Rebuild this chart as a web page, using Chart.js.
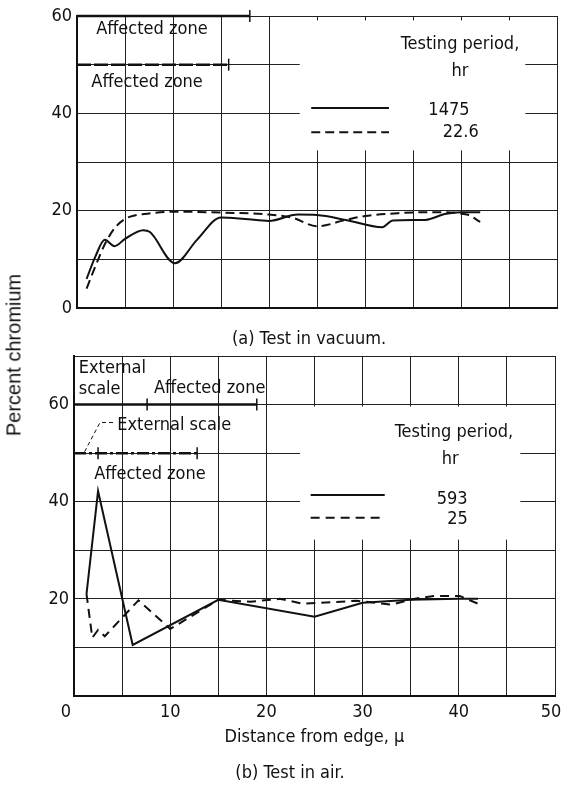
<!DOCTYPE html>
<html>
<head>
<meta charset="utf-8">
<script src="https://cdn.jsdelivr.net/npm/chart.js@4.4.0/dist/chart.umd.min.js"></script>
<style>
  body { margin: 0; background: #fff; width: 562px; height: 788px; position: relative; overflow: hidden;
         font-family: 'DejaVu Sans Condensed', 'Liberation Sans Narrow', sans-serif; color: #111; }
  #topChart { position: absolute; left: 0; top: 0; }
  #airChart { position: absolute; left: 0; top: 340px; }
  .cap { position: absolute; font-size: 18px; white-space: nowrap; transform: translateX(-50%); }
  #ylab { position: absolute; left: 14px; top: 355px; font-family: 'Liberation Sans', Arial, sans-serif; font-size: 20px;
          white-space: nowrap; transform: translate(-50%, -50%) rotate(-90deg); }
</style>
</head>
<body>
<canvas id="topChart" width="562" height="330"></canvas>
<canvas id="airChart" width="562" height="448"></canvas>
<div class="cap" style="left:309px; top:327px;">(a) Test in vacuum.</div>
<div class="cap" style="left:290px; top:761px;">(b) Test in air.</div>
<div id="ylab">Percent chromium</div>
<script>
// (a) vacuum, 1475 hr (solid)
const vacX1475 = [1, 1.9, 2.9, 3.9, 5, 6.9, 7.6, 10.2, 12.5, 15, 17.5, 20, 23, 25, 28, 31.8, 32.9, 36.3, 38.3, 40, 42];
const vacY1475 = [6, 10.5, 14, 12.7, 14.2, 16, 15.6, 9.2, 14, 18.6, 18.3, 17.9, 19.2, 19.1, 18.1, 16.6, 18, 18.1, 19.3, 19.7, 19.7];
// (a) vacuum, 22.6 hr (dashed)
const vacX226 = [1, 2, 3, 4, 5, 6, 7, 10, 15, 20, 22.5, 25, 28, 30, 33.6, 37, 40.6, 42];
const vacY226 = [4, 9, 13.5, 16.6, 18.3, 19.0, 19.3, 19.8, 19.6, 19.2, 18.5, 16.8, 18.1, 18.9, 19.5, 19.7, 19.2, 17.7];
// (b) air, 593 hr (solid)
const airX593 = [1.3, 2.5, 6.1, 15, 25, 30, 35, 40, 42];
const airY593 = [21, 42.2, 10.5, 19.8, 16.3, 19.2, 19.8, 20, 20];
// (b) air, 25 hr (dashed)
const airX25 = [1.3, 1.9, 2.5, 3.2, 6.7, 10, 15, 18.3, 21.4, 23.8, 29.4, 33, 35.3, 37.4, 40.1, 42];
const airY25 = [21, 12, 13.6, 12.3, 19.7, 13.8, 19.8, 19.4, 20, 19, 19.6, 18.8, 20, 20.6, 20.6, 19];

const yLabelsVac = [0, 20, 40, 60];
const yLabelsAir = [20, 40, 60];
const xLabels = [0, 10, 20, 30, 40, 50];

// zone extents along the distance axis
const vacZoneLong = [0, 18.0];
const vacZoneShort = [0, 15.8];
const airZoneLong = [0, 7.6, 19.0];
const airZoneShort = [0, 2.5, 12.8];

const tickFont = { family: "'Liberation Sans Narrow', 'DejaVu Sans Condensed', sans-serif", size: 18 };
const noteFont = "18px 'DejaVu Sans Condensed', 'Liberation Sans Narrow', sans-serif";

function pts(xs, ys) {
  return xs.map((x, i) => ({ x: x, y: ys[i] }));
}

// end labels sit a little left in the original, nudge them with trailing space
function xTickText(v) {
  if (!xLabels.includes(v)) return '';
  if (v === 0) return '0\u2003';
  if (v === 50) return '50\u2002';
  return String(v);
}

function makeNotes(cfg) {
  return {
    id: 'notes',
    beforeDatasetsDraw(chart) {
      const { ctx, scales: { x, y } } = chart;
      const b = cfg.blank;
      const l = x.getPixelForValue(b[0]), r = x.getPixelForValue(b[1]);
      const t = y.getPixelForValue(b[3]), btm = y.getPixelForValue(b[2]);
      ctx.save();
      ctx.fillStyle = '#fff';
      ctx.fillRect(l, t, r - l, btm - t);
      ctx.restore();
    },
    afterDatasetsDraw(chart) {
      const { ctx, scales: { x, y } } = chart;
      ctx.save();
      ctx.strokeStyle = '#111';
      ctx.fillStyle = '#111';
      cfg.zones.forEach(z => {
        const py = y.getPixelForValue(z.y);
        ctx.lineWidth = 2.5;
        ctx.setLineDash(z.dash);
        ctx.beginPath();
        ctx.moveTo(x.getPixelForValue(z.marks[0]), py);
        ctx.lineTo(x.getPixelForValue(z.marks[z.marks.length - 1]), py);
        ctx.stroke();
        ctx.setLineDash([]);
        ctx.lineWidth = 1.5;
        z.marks.slice(1).forEach(m => {
          const px = x.getPixelForValue(m);
          ctx.beginPath();
          ctx.moveTo(px, py - 6);
          ctx.lineTo(px, py + 6);
          ctx.stroke();
        });
      });
      (cfg.leaders || []).forEach(ld => {
        ctx.lineWidth = 1;
        ctx.setLineDash(ld.dash);
        ctx.beginPath();
        ld.path.forEach((p, i) => {
          const px = x.getPixelForValue(p[0]), py = y.getPixelForValue(p[1]);
          if (i === 0) ctx.moveTo(px, py); else ctx.lineTo(px, py);
        });
        ctx.stroke();
      });
      ctx.setLineDash([]);
      cfg.samples.forEach(s => {
        ctx.lineWidth = 2;
        ctx.setLineDash(s.dash);
        const py = y.getPixelForValue(s.y);
        ctx.beginPath();
        ctx.moveTo(x.getPixelForValue(s.from), py);
        ctx.lineTo(x.getPixelForValue(s.to), py);
        ctx.stroke();
      });
      ctx.setLineDash([]);
      ctx.font = noteFont;
      ctx.textBaseline = 'middle';
      cfg.texts.forEach(t => {
        ctx.textAlign = t.align;
        ctx.fillText(t.text, x.getPixelForValue(t.x), y.getPixelForValue(t.y));
      });
      ctx.restore();
    }
  };
}

function scalesFor(yMax, yLabels, showX) {
  return {
    x: {
      type: 'linear', min: 0, max: 50,
      ticks: {
        stepSize: 5, display: showX, color: '#111', font: tickFont, padding: 6,
        callback: xTickText
      },
      grid: { color: '#222', lineWidth: 1, drawTicks: false },
      border: { display: true, color: '#111', width: 2 },
      title: {
        display: showX, text: 'Distance from edge, \u03bc', color: '#111',
        font: { family: "'DejaVu Sans Condensed', 'Liberation Sans Narrow', sans-serif", size: 18 },
        padding: { top: 0, bottom: 40 }
      },
      afterFit: s => {
        s.height = showX ? 92 : 0;
        s.paddingLeft = 0;
        s.paddingRight = 0;
      }
    },
    y: {
      type: 'linear', min: 0, max: yMax,
      ticks: {
        stepSize: 10, color: '#111', font: tickFont, padding: 5,
        callback: v => (yLabels.includes(v) ? v : '')
      },
      grid: { color: '#222', lineWidth: 1, drawTicks: false },
      border: { display: true, color: '#111', width: 2 }
    }
  };
}

const lineStyle = { borderColor: '#111', borderWidth: 2, pointRadius: 0, fill: false };

const vacScales = scalesFor(60, yLabelsVac, false);
vacScales.y.afterFit = s => { s.width = 77; };
new Chart(document.getElementById('topChart'), {
  type: 'line',
  data: {
    datasets: [
      Object.assign({ label: '1475', data: pts(vacX1475, vacY1475), cubicInterpolationMode: 'monotone' }, lineStyle),
      Object.assign({ label: '22.6', data: pts(vacX226, vacY226), cubicInterpolationMode: 'monotone', borderDash: [9, 5] }, lineStyle)
    ]
  },
  options: {
    responsive: false, animation: false,
    layout: { padding: { left: 0, right: 5, top: 16, bottom: 22 } },
    plugins: { legend: { display: false }, tooltip: { enabled: false } },
    scales: vacScales
  },
  plugins: [makeNotes({
    blank: [23.2, 46.7, 32.4, 59.1],
    zones: [
      { y: 60, marks: vacZoneLong, dash: [] },
      { y: 50, marks: vacZoneShort, dash: [14, 3] }
    ],
    samples: [
      { from: 24.4, to: 32.5, y: 41.1, dash: [] },
      { from: 24.4, to: 32.5, y: 36.1, dash: [9, 5] }
    ],
    texts: [
      { text: 'Affected zone', x: 7.8, y: 57.3, align: 'center' },
      { text: 'Affected zone', x: 7.3, y: 46.3, align: 'center' },
      { text: 'Testing period,', x: 39.9, y: 54.2, align: 'center' },
      { text: 'hr', x: 39.9, y: 48.6, align: 'center' },
      { text: '1475', x: 36.6, y: 40.6, align: 'left' },
      { text: '22.6', x: 38.1, y: 36.0, align: 'left' }
    ]
  })]
});

const airScales = scalesFor(70, yLabelsAir, true);
airScales.y.afterFit = s => { s.width = 74; };
new Chart(document.getElementById('airChart'), {
  type: 'line',
  data: {
    datasets: [
      Object.assign({ label: '593', data: pts(airX593, airY593) }, lineStyle),
      Object.assign({ label: '25', data: pts(airX25, airY25), borderDash: [9, 6] }, lineStyle)
    ]
  },
  options: {
    responsive: false, animation: false,
    layout: { padding: { left: 0, right: 7, top: 16, bottom: 0 } },
    plugins: { legend: { display: false }, tooltip: { enabled: false } },
    scales: airScales
  },
  plugins: [makeNotes({
    blank: [23.5, 46.4, 32.2, 59.6],
    zones: [
      { y: 60, marks: airZoneLong, dash: [] },
      { y: 50, marks: airZoneShort, dash: [12, 3, 3, 3] }
    ],
    leaders: [
      { path: [[1.1, 50.3], [2.7, 56.3], [4.3, 56.3]], dash: [4, 3] }
    ],
    samples: [
      { from: 24.6, to: 32.3, y: 41.4, dash: [] },
      { from: 24.6, to: 32.3, y: 36.7, dash: [9, 6] }
    ],
    texts: [
      { text: 'External', x: 0.5, y: 67.4, align: 'left' },
      { text: 'scale', x: 0.5, y: 63.1, align: 'left' },
      { text: 'Affected zone', x: 14.1, y: 63.3, align: 'center' },
      { text: 'External scale', x: 4.5, y: 55.7, align: 'left' },
      { text: 'Affected zone', x: 7.9, y: 45.6, align: 'center' },
      { text: 'Testing period,', x: 39.5, y: 54.2, align: 'center' },
      { text: 'hr', x: 39.1, y: 48.7, align: 'center' },
      { text: '593', x: 37.7, y: 40.4, align: 'left' },
      { text: '25', x: 38.8, y: 36.3, align: 'left' }
    ]
  })]
});
</script>
</body>
</html>
